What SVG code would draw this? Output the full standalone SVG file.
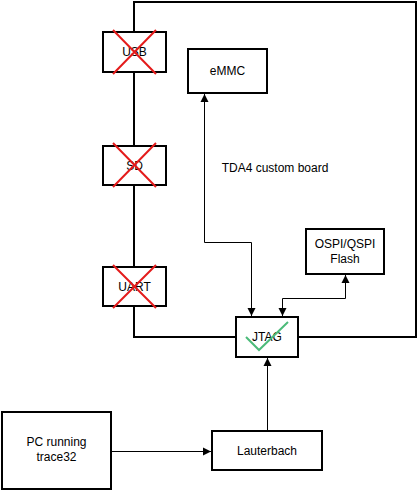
<svg xmlns="http://www.w3.org/2000/svg" width="417" height="491" viewBox="0 0 417 491">
<defs>
<marker id="arr" markerWidth="10" markerHeight="10" refX="9" refY="5" orient="auto-start-reverse" markerUnits="userSpaceOnUse">
<path d="M1,1 L9,5 L1,9 Z" fill="#000"/>
</marker>
<style>
.box{fill:#fff;stroke:#000;stroke-width:2}
.lbl{font-family:"Liberation Sans",Arial,sans-serif;font-size:12px;fill:#000;text-anchor:middle}
.con{fill:none;stroke:#000;stroke-width:1}
.x{stroke:#e41b1b;stroke-width:2;fill:none}
</style>
</defs>
<g id="board">
<rect x="134" y="2" width="282" height="335" fill="none" stroke="#000" stroke-width="2"/>
<text class="lbl" x="275" y="172">TDA4 custom board</text>
</g>
<g id="connectors">
<path class="con" d="M204.5,94 L204.5,242.5 L251.5,242.5 L251.5,316" marker-start="url(#arr)" marker-end="url(#arr)"/>
<path class="con" d="M345.5,275 L345.5,298.5 L282.5,298.5 L282.5,316" marker-start="url(#arr)" marker-end="url(#arr)"/>
<path class="con" d="M267.5,431 L267.5,358" marker-end="url(#arr)"/>
<path class="con" d="M111,451.5 L211,451.5" marker-end="url(#arr)"/>
</g>
<g id="usb">
<rect class="box" x="103" y="32" width="63" height="40"/>
<text class="lbl" x="134.5" y="56">USB</text>
<path class="x" d="M113,30 L156,74 M156,30 L113,74"/>
</g>
<g id="sd">
<rect class="box" x="103" y="146" width="63" height="39"/>
<text class="lbl" x="134.5" y="170">SD</text>
<path class="x" d="M113,143 L156,187 M156,143 L113,187"/>
</g>
<g id="uart">
<rect class="box" x="103" y="267" width="63" height="39"/>
<text class="lbl" x="134.5" y="291">UART</text>
<path class="x" d="M113,265 L156,308 M156,265 L113,308"/>
</g>
<g id="emmc">
<rect class="box" x="188" y="49" width="79" height="44"/>
<text class="lbl" x="227.5" y="75">eMMC</text>
</g>
<g id="ospi">
<rect class="box" x="306" y="229" width="78" height="45"/>
<text class="lbl" x="345" y="248">OSPI/QSPI</text>
<text class="lbl" x="345" y="263">Flash</text>
</g>
<g id="jtag">
<rect class="box" x="236" y="317" width="62" height="40"/>
<text class="lbl" x="267" y="341">JTAG</text>
<path d="M246,337 L259,350 L288,322" fill="none" stroke="#4cbb7a" stroke-width="2"/>
</g>
<g id="pc">
<rect class="box" x="2" y="412" width="109" height="77"/>
<text class="lbl" x="56.5" y="446">PC running</text>
<text class="lbl" x="56.5" y="461">trace32</text>
</g>
<g id="lauterbach">
<rect class="box" x="212" y="431" width="110" height="39"/>
<text class="lbl" x="267" y="455">Lauterbach</text>
</g>
</svg>
